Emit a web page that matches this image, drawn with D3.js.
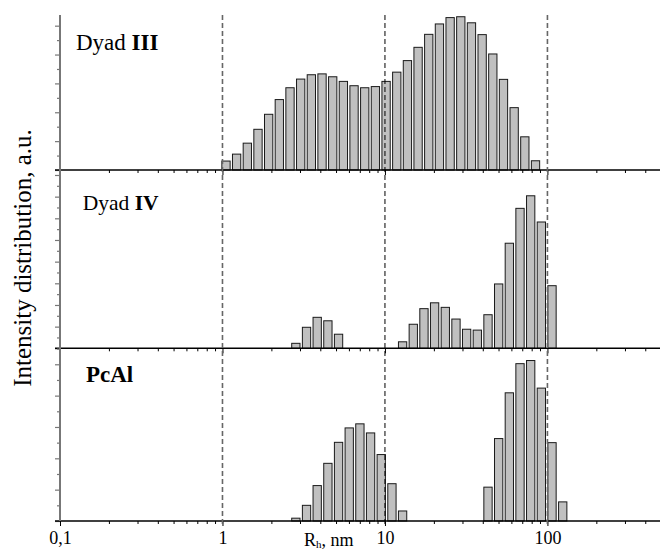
<!DOCTYPE html>
<html>
<head>
<meta charset="utf-8">
<script src="https://cdn.jsdelivr.net/npm/d3@7"></script>
<style>
body { margin: 0; background: #fff; }
svg { display: block; }
</style>
</head>
<body>
<svg width="660" height="553" font-family="Liberation Serif, DejaVu Serif, serif"></svg>
<script>
var sizesIII = [1.051, 1.222, 1.422, 1.654, 1.924, 2.238, 2.604, 3.029, 3.524, 4.099,
    4.769, 5.547, 6.453, 7.507, 8.733, 10.16, 11.82, 13.75, 15.99, 18.60,
    21.64, 25.18, 29.29, 34.07, 39.64, 46.11, 53.64, 62.40, 72.59, 84.45];
var intensIII = [0.31, 0.55, 0.93, 1.41, 1.93, 2.44, 2.85, 3.15, 3.30, 3.33,
    3.23, 3.07, 2.92, 2.85, 2.89, 3.07, 3.39, 3.79, 4.25, 4.70,
    5.06, 5.28, 5.31, 5.10, 4.69, 4.02, 3.14, 2.16, 1.15, 0.32];

var sizesIV = [2.829, 3.291, 3.828, 4.454, 5.181,
    12.84, 14.94, 17.38, 20.21, 23.52, 27.36, 31.82, 37.02, 43.07, 50.10,
    58.28, 67.80, 78.87, 91.75, 106.7];
var intensIV = [0.23, 0.97, 1.43, 1.27, 0.65,
    0.30, 1.11, 1.83, 2.10, 1.89, 1.35, 0.88, 0.84, 1.55, 2.97,
    4.85, 6.46, 7.04, 5.83, 2.89];

var sizesPcAl = [2.829, 3.291, 3.828, 4.454, 5.181, 6.027, 7.011, 8.156, 9.488, 11.04, 12.84,
    43.07, 50.10, 58.28, 67.80, 78.87, 91.75, 106.7, 124.2];
var intensPcAl = [0.09, 0.50, 1.13, 1.84, 2.51, 2.97, 3.10, 2.81, 2.12, 1.19, 0.32,
    1.08, 2.63, 4.09, 5.02, 5.12, 4.24, 2.50, 0.61];

var xTickValues = [0.1, 1, 10, 100];
var xTickLabels = ["0,1", "1", "10", "100"];
var guideValues = [1, 10, 100];

var serif = 'Liberation Serif, DejaVu Serif, serif';
var svg = d3.select('svg');

var x = d3.scaleLog().domain([0.1, 500]).range([60, 661]);
var barW = (x(sizesIII[1]) - x(sizesIII[0])) * 0.78;

// panels stacked top to bottom
var panels = [
    {sizes: sizesIII, vals: intensIII, top: 15, bottom: 170, ymax: 5.37,
     name: "Dyad ", bold: "III", lx: 76, ly: 49.5, fs: 23},
    {sizes: sizesIV, vals: intensIV, top: 170, bottom: 348.3, ymax: 8.23,
     name: "Dyad ", bold: "IV", lx: 82.7, ly: 210, fs: 21.5},
    {sizes: sizesPcAl, vals: intensPcAl, top: 348.3, bottom: 521, ymax: 5.51,
     name: "", bold: "PcAl", lx: 86, ly: 381.7, fs: 23}
];

var minorX = x.ticks().filter(function(d){ return xTickValues.indexOf(d) < 0; });

panels.forEach(function(p, k){
    var y = d3.scaleLinear().domain([0, p.ymax]).range([p.bottom, p.top]);

    // bars
    svg.append('g').selectAll('rect')
        .data(p.sizes)
        .enter()
        .append('rect')
        .attr('x', function(d){ return x(d) - barW/2; })
        .attr('width', barW)
        .attr('y', function(d, i){ return y(p.vals[i]); })
        .attr('height', function(d, i){ return p.bottom - y(p.vals[i]); })
        .attr('fill', '#c0c0c0')
        .attr('stroke', '#1a1a1a')
        .attr('stroke-width', 1);

    // y ticks (no labels)
    var yMinor = d3.range(0.5, p.ymax, 1);
    var yMajor = d3.range(0, p.ymax, 1);
    svg.append('g').attr('class', 'y axis')
        .attr('transform', 'translate(60,0)')
        .call(d3.axisLeft(y).tickValues(yMajor).tickSize(5).tickFormat(''));
    svg.append('g').attr('class', 'y axis')
        .attr('transform', 'translate(60,0)')
        .call(d3.axisLeft(y).tickValues(yMinor).tickSize(3).tickFormat(''));

    // x ticks on the baseline of each panel
    svg.append('g').attr('class', 'x axis')
        .attr('transform', 'translate(0,' + p.bottom + ')')
        .call(d3.axisBottom(x).tickValues(minorX).tickSize(3).tickFormat(''));
    svg.append('g').attr('class', 'x axis major')
        .attr('transform', 'translate(0,' + p.bottom + ')')
        .call(d3.axisBottom(x).tickValues(xTickValues).tickSize(5).tickPadding(5)
            .tickFormat(function(d, i){ return k == 2 ? xTickLabels[i] : ''; }));

    svg.append('line')
        .attr('x1', 55).attr('x2', 660)
        .attr('y1', p.bottom).attr('y2', p.bottom)
        .attr('stroke', '#000')
        .attr('stroke-width', 1.5);

    var lab = svg.append('text')
        .attr('x', p.lx).attr('y', p.ly)
        .attr('font-family', serif)
        .attr('font-size', p.fs);
    lab.append('tspan').text(p.name);
    lab.append('tspan').attr('font-weight', 'bold').text(p.bold);
});

svg.selectAll('.axis path.domain').remove();
svg.selectAll('.axis').attr('font-family', serif);
svg.selectAll('.y.axis line').attr('stroke', '#777').attr('stroke-width', 1.2);
svg.selectAll('.x.axis line').attr('stroke', '#000');
svg.selectAll('.x.axis text')
    .attr('font-family', serif)
    .attr('font-size', 18)
    .attr('fill', '#000');

// left axis line through all panels
svg.append('line')
    .attr('x1', 60).attr('x2', 60)
    .attr('y1', 15).attr('y2', 521)
    .attr('stroke', '#777')
    .attr('stroke-width', 2);

// dashed guides at the decades
svg.append('g').selectAll('line')
    .data(guideValues)
    .enter()
    .append('line')
    .attr('x1', function(d){ return x(d); })
    .attr('x2', function(d){ return x(d); })
    .attr('y1', 15).attr('y2', 525)
    .attr('stroke', function(d){ return d == 10 ? '#000' : '#666'; })
    .attr('stroke-width', function(d){ return d == 10 ? 1 : 1.6; })
    .attr('stroke-dasharray', '5,3');

// axis titles
var xt = svg.append('text')
    .attr('x', 304).attr('y', 546)
    .attr('font-family', serif)
    .attr('font-size', 18);
xt.append('tspan').text('R');
xt.append('tspan').attr('font-size', 11).attr('dy', 2).text('h');
xt.append('tspan').attr('dy', -2).text(', nm');

svg.append('text')
    .attr('transform', 'translate(31,258) rotate(-90)')
    .attr('text-anchor', 'middle')
    .attr('font-family', serif)
    .attr('font-size', 25)
    .text('Intensity distribution, a.u.');
</script>
</body>
</html>
